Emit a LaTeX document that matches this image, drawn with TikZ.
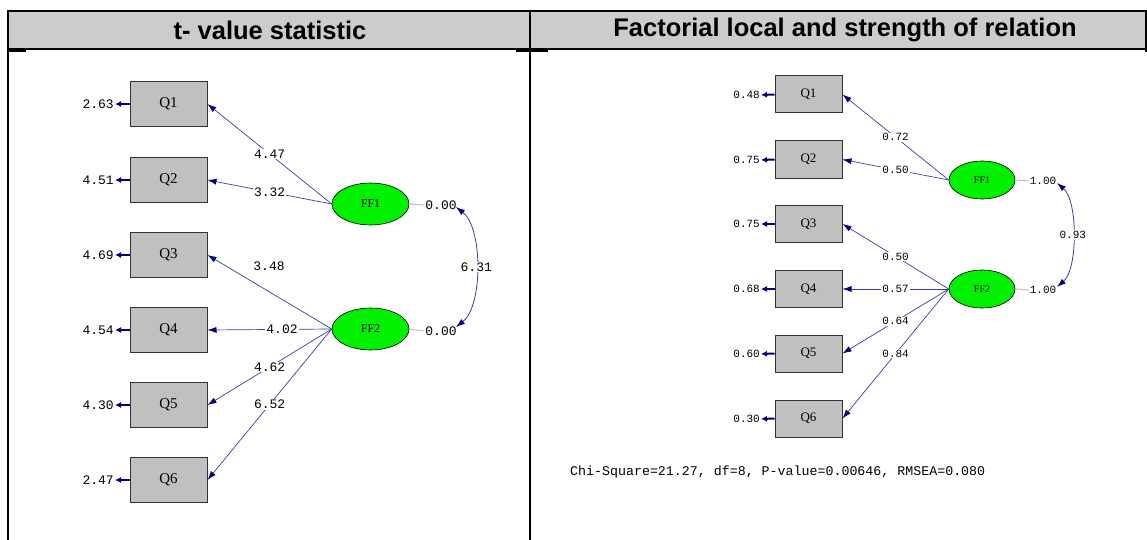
\documentclass[tikz,border=0pt]{standalone}
\usepackage{fontspec}
\setmainfont{Liberation Serif}
\newfontfamily\monof{Liberation Mono}
\newfontfamily\hdrf{Liberation Sans}
\usetikzlibrary{shapes.geometric,arrows.meta}
\definecolor{navyb}{RGB}{0,0,128}
\definecolor{linec}{RGB}{60,60,165}
\definecolor{hdrgray}{RGB}{204,204,204}
\definecolor{boxgray}{RGB}{192,192,192}
\definecolor{boxedge}{RGB}{50,50,50}
\definecolor{latgreen}{RGB}{0,240,0}
\begin{document}
\begin{tikzpicture}[x=1pt,y=-1pt,
  tbl/.style={line width=2pt,black},
  hdrtext/.style={font=\hdrf\bfseries\fontsize{25.5}{25.5}\selectfont},
  qboxL/.style={draw=boxedge,fill=boxgray,line width=1pt,minimum width=77pt,minimum height=45pt,inner sep=0pt,font=\fontsize{15}{15}\selectfont},
  qboxR/.style={draw=boxedge,fill=boxgray,line width=1pt,minimum width=67pt,minimum height=37pt,inner sep=0pt,font=\fontsize{13}{13}\selectfont},
  latL/.style={ellipse,draw=black,fill=latgreen,line width=0.6pt,minimum width=77pt,minimum height=42pt,inner sep=0pt,font=\fontsize{12}{12}\selectfont},
  latR/.style={ellipse,draw=black,fill=latgreen,line width=0.6pt,minimum width=66pt,minimum height=38pt,inner sep=0pt,font=\fontsize{10}{10}\selectfont},
  labL/.style={font=\monof\fontsize{13}{13}\selectfont,fill=white,inner sep=1pt},
  labR/.style={font=\monof\fontsize{11}{11}\selectfont,fill=white,inner sep=1pt},
  errL/.style={font=\monof\fontsize{13}{13}\selectfont,inner sep=1pt},
  errR/.style={font=\monof\fontsize{11}{11}\selectfont,inner sep=1pt},
  pathar/.style={draw=linec,line width=0.7pt,-{Latex[length=9pt,width=6pt,color=navyb]}},
  errar/.style={draw=navyb,line width=2pt,-{Latex[length=6pt,width=6pt]}},
  covar/.style={draw=linec,line width=0.8pt,{Latex[length=9pt,width=6pt,color=navyb]}-{Latex[length=9pt,width=6pt,color=navyb]}},
  varline/.style={draw=black!25,line width=1pt}]
\useasboundingbox (0,0) rectangle (1147,540);
% table header
\fill[hdrgray] (8,11) rectangle (1146,49);
\draw[tbl] (7,11) -- (1147,11);
\draw[tbl] (7,49) -- (1146,49);
\draw[tbl] (8,10) -- (8,540);
\draw[tbl] (530,10) -- (530,540);
\draw[tbl] (1146,10) -- (1146,52);
\draw[tbl] (8,51) -- (26,51);
\draw[tbl] (516,51) -- (548,51);
\node[hdrtext] (h1) at (270,30) {t- value statistic};
\node[hdrtext] (h2) at (845,30) {Factorial local and strength of relation};

% ---------- left panel ----------
\node[qboxL] (lq1) at (168.5,104) {Q1};
\node[qboxL] (lq2) at (168.5,180) {Q2};
\node[qboxL] (lq3) at (168.5,255) {Q3};
\node[qboxL] (lq4) at (168.5,330) {Q4};
\node[qboxL] (lq5) at (168.5,405) {Q5};
\node[qboxL] (lq6) at (168.5,480) {Q6};
\node[errL,anchor=east] (le1) at (115,104) {2.63};
\node[errL,anchor=east] (le2) at (115,180) {4.51};
\node[errL,anchor=east] (le3) at (115,255) {4.69};
\node[errL,anchor=east] (le4) at (115,330) {4.54};
\node[errL,anchor=east] (le5) at (115,405) {4.30};
\node[errL,anchor=east] (le6) at (115,480) {2.47};
\foreach \i in {1,...,6} {\draw[errar] (lq\i.west) -- (le\i.east);}
\node[latL] (lf1) at (370.5,204) {FF1};
\node[latL] (lf2) at (370.5,329) {FF2};
\draw[pathar] (lf1.west) -- node[labL,pos=0.5] {4.47} (lq1.east);
\draw[pathar] (lf1.west) -- node[labL,pos=0.5] {3.32} (lq2.east);
\draw[pathar] (lf2.west) -- (lq3.east);
\node[labL] (l348) at (269,266) {3.48};
\draw[pathar] (lf2.west) -- node[labL,pos=0.4] {4.02} (lq4.east);
\draw[pathar] (lf2.west) -- node[labL,pos=0.5] {4.62} (lq5.east);
\draw[pathar] (lf2.west) -- node[labL,pos=0.5] {6.52} (lq6.east);
\node[errL] (lz1) at (441,205) {0.00};
\node[errL] (lz2) at (441,331) {0.00};
\draw[varline] (lf1.east) -- (lz1.west);
\draw[varline] (lf2.east) -- (lz2.west);
\coordinate (lc1) at (456,207);
\coordinate (lc2) at (456,327);
\draw[covar] (lc1) .. controls (483,228) and (483,306) .. node[labL,pos=0.5] {6.31} (lc2);

% ---------- right panel ----------
\node[qboxR] (rq1) at (808.5,94.5) {Q1};
\node[qboxR] (rq2) at (808.5,159.5) {Q2};
\node[qboxR] (rq3) at (808.5,224) {Q3};
\node[qboxR] (rq4) at (808.5,289) {Q4};
\node[qboxR] (rq5) at (808.5,353.5) {Q5};
\node[qboxR] (rq6) at (808.5,418.5) {Q6};
\node[errR,anchor=east] (re1) at (761,95) {0.48};
\node[errR,anchor=east] (re2) at (761,160) {0.75};
\node[errR,anchor=east] (re3) at (761,224) {0.75};
\node[errR,anchor=east] (re4) at (761,289) {0.68};
\node[errR,anchor=east] (re5) at (761,354) {0.60};
\node[errR,anchor=east] (re6) at (761,419) {0.30};
\foreach \i in {1,...,6} {\draw[errar] (rq\i.west) -- (re\i.east);}
\node[latR] (rf1) at (982,180) {FF1};
\node[latR] (rf2) at (982,289) {FF2};
\draw[pathar] (rf1.west) -- node[labR,pos=0.5] {0.72} (rq1.east);
\draw[pathar] (rf1.west) -- node[labR,pos=0.5] {0.50} (rq2.east);
\draw[pathar] (rf2.west) -- node[labR,pos=0.5] {0.50} (rq3.east);
\draw[pathar] (rf2.west) -- node[labR,pos=0.5] {0.57} (rq4.east);
\draw[pathar] (rf2.west) -- node[labR,pos=0.5] {0.64} (rq5.east);
\draw[pathar] (rf2.west) -- node[labR,pos=0.5] {0.84} (rq6.east);
\node[errR] (rz1) at (1043,181) {1.00};
\node[errR] (rz2) at (1043,290) {1.00};
\draw[varline] (rf1.east) -- (rz1.west);
\draw[varline] (rf2.east) -- (rz2.west);
\coordinate (rc1) at (1057,183);
\coordinate (rc2) at (1057,287);
\draw[covar] (rc1) .. controls (1078,201) and (1078,269) .. node[labR,pos=0.5] {0.93} (rc2);
\node[font=\monof\fontsize{13.3}{13.3}\selectfont,anchor=west,inner sep=0pt] (chi) at (570,472) {Chi-Square=21.27, df=8, P-value=0.00646, RMSEA=0.080};
\end{tikzpicture}
\end{document}
